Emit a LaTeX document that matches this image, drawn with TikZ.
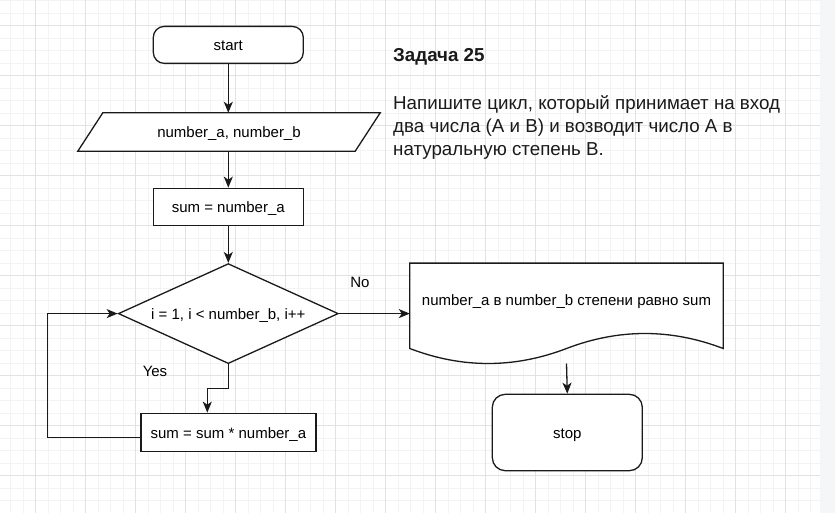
\documentclass[tikz,border=0pt]{standalone}
\usepackage{fontspec}
\setmainfont{Liberation Sans}
\usetikzlibrary{arrows.meta,calc,shapes.geometric}
\definecolor{gridminor}{HTML}{F3F3F3}
\definecolor{gridmajor}{HTML}{E2E2E2}
\definecolor{sidebar}{HTML}{F5F6F8}
\definecolor{ink}{HTML}{1A1A1A}

\begin{document}
\begin{tikzpicture}[x=1pt,y=-1pt,
  txt/.style={font=\fontsize{15}{18}\selectfont, text=black, text height=14pt, text depth=2pt},
  box/.style={txt, draw=ink, fill=white, line width=1.3pt, inner sep=0pt},
  term/.style={box, rounded corners=11pt},
  shapeline/.style={draw=ink, fill=white, line width=1.3pt},
  conn/.style={draw=ink, line width=1.3pt, -{Stealth[length=11pt,width=9pt,inset=3pt]}},
  lbl/.style={txt, inner sep=0pt},
  heading/.style={font=\fontsize{18.75}{22.5}\selectfont\bfseries, text=ink, inner sep=0pt, anchor=base west},
  para/.style={font=\fontsize{18.75}{22.5}\selectfont, text=ink, inner sep=0pt, anchor=base west},
]
\useasboundingbox (0,0) rectangle (835,513);

% canvas with grid
\fill[white] (0,0) rectangle (820,513);
\fill[sidebar] (820,0) rectangle (835,513);
\begin{scope}
  \clip (0,0) rectangle (820,513);
  \foreach \k in {0,...,64} \draw[gridminor, line width=0.8pt] ({10.5+12.5*\k},0) -- ++(0,513);
  \foreach \k in {0,...,41} \draw[gridminor, line width=0.8pt] (0,{0.5+12.5*\k}) -- ++(820,0);
  \foreach \k in {0,...,15} \draw[gridmajor, line width=0.8pt] ({35.5+50*\k},0) -- ++(0,513);
  \foreach \k in {0,...,9} \draw[gridmajor, line width=0.8pt] (0,{25.5+50*\k}) -- ++(820,0);
\end{scope}

% flowchart blocks
\node[term, minimum width=150pt, minimum height=37pt] (start) at (228.3,44.9) {start};

\node[lbl, minimum width=302pt, minimum height=38pt] (inp) at (229,132) {};
\path[shapeline] (inp.south west) -- ($(inp.north west)+(25,0)$) -- (inp.north east)
  -- ($(inp.south east)-(25,0)$) -- cycle;
\node[lbl] (inptext) at (inp.center) {number\_a, number\_b};

\node[box, minimum width=150pt, minimum height=37.4pt] (init) at (228.3,207) {sum = number\_a};

\node[box, diamond, aspect=2.2, minimum width=220pt, minimum height=100pt] (cond) at (228.3,313.6)
  {i = 1, i < number\_b, i++};

\node[box, minimum width=175pt, minimum height=38pt] (body) at (228.4,432.3) {sum = sum * number\_a};

% output document with a wavy lower edge
\node[lbl, minimum width=313pt, minimum height=85pt] (doc) at (566.5,305.8) {};
\path[shapeline] (doc.south east) -- (doc.north east) -- (doc.north west) -- (doc.south west)
  .. controls ($(doc.south west)+(52.2,20)$) and ($(doc.south)+(-52.2,20)$) .. (doc.south)
  .. controls ($(doc.south)+(52.2,-20)$) and ($(doc.south east)+(-52.2,-20)$) .. (doc.south east)
  -- cycle;
\node[lbl] (doctext) at ([yshift=6.5pt]doc.center) {number\_a в number\_b степени равно sum};

\node[term, rounded corners=13pt, minimum width=150pt, minimum height=76.4pt] (stop) at (567.3,432.5) {stop};

% connectors
\draw[conn] (start.south) -- (start.south |- inp.north);
\draw[conn] (inp.south -| init.north) -- (init.north);
\draw[conn] (init.south) -- (cond.north);
\draw[conn] (cond.south) -- ++(0,24.2) -| ([xshift=-21.1pt]body.north);
\draw[conn] ([yshift=-5.4pt]body.west) -- ++(-92.7,0) |- (cond.west);
\draw[conn] (cond.east) -- (cond.east -| doc.west);
\draw[conn] ([yshift=-15pt]doc.south) -- (stop.north);

% branch labels
\node[lbl] (yes) at (155,370) {Yes};
\node[lbl] (no) at (360,281.5) {No};

% task statement
\node[heading] (title) at (393,61.8) {Задача 25};
\node[para] (task1) at (393,110) {Напишите цикл, который принимает на вход};
\node[para] (task2) at (393,132.7) {два числа (A и B) и возводит число A в};
\node[para] (task3) at (393,155.3) {натуральную степень B.};
\end{tikzpicture}
\end{document}
